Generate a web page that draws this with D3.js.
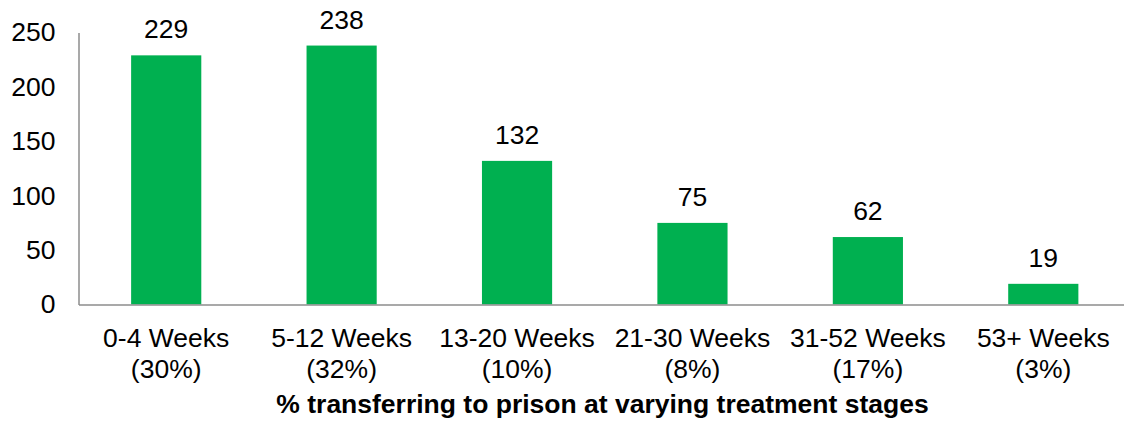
<!DOCTYPE html>
<html>
<head>
<meta charset="utf-8">
<script src="https://cdn.jsdelivr.net/npm/d3@7"></script>
<style>
  html, body { margin: 0; padding: 0; background: #fff; }
  svg { display: block; font-family: "Liberation Sans", Arial, sans-serif; }
</style>
</head>
<body>
<svg id="chart" width="1124" height="426"></svg>
<script>
// Treatment stage categories (two-line labels) and counts
const stages = ["0-4 Weeks", "5-12 Weeks", "13-20 Weeks", "21-30 Weeks", "31-52 Weeks", "53+ Weeks"];
const shares = ["(30%)", "(32%)", "(10%)", "(8%)", "(17%)", "(3%)"];
const counts = [229, 238, 132, 75, 62, 19];
const yTicks = [0, 50, 100, 150, 200, 250];
const axisTitle = "% transferring to prison at varying treatment stages";

const svg = d3.select("#chart");
const plotLeft = 78.5, plotRight = 1131, plotTop = 32.5, plotBottom = 304.5;
const fontSize = 26.5;

const x = d3.scaleBand()
  .domain(stages)
  .range([plotLeft, plotRight])
  .paddingInner(0.6)
  .paddingOuter(0.3);

const y = d3.scaleLinear().domain([0, 250]).range([plotBottom, plotTop]);

// Bars
svg.append("g").selectAll("rect")
  .data(counts)
  .join("rect")
  .attr("x", (d, i) => x(stages[i]))
  .attr("y", d => y(d))
  .attr("width", x.bandwidth())
  .attr("height", d => y(0) - y(d))
  .attr("fill", "#00b050");

// Value labels
svg.append("g").selectAll("text")
  .data(counts)
  .join("text")
  .attr("x", (d, i) => x(stages[i]) + x.bandwidth() / 2)
  .attr("y", d => y(d) - 17)
  .attr("text-anchor", "middle")
  .attr("font-size", fontSize)
  .attr("fill", "#000")
  .text(d => d);

// Y axis
const yAxis = d3.axisLeft(y).tickValues(yTicks).tickSize(0).tickPadding(23);
const gy = svg.append("g").attr("transform", `translate(${plotLeft},0)`).call(yAxis);
gy.select(".domain").attr("stroke", "#8c8c8c").attr("stroke-width", 1.5);
gy.selectAll(".tick text")
  .attr("font-size", fontSize)
  .attr("font-family", "Liberation Sans, Arial, sans-serif")
  .attr("fill", "#000");

// X axis baseline
const xAxis = d3.axisBottom(x).tickSize(0).tickFormat("");
const gx = svg.append("g").attr("transform", `translate(0,${plotBottom})`).call(xAxis);
gx.select(".domain").attr("stroke", "#8c8c8c").attr("stroke-width", 1.5);

// Two-line category labels
const lbl = svg.append("g").selectAll("text")
  .data(stages)
  .join("text")
  .attr("text-anchor", "middle")
  .attr("font-size", fontSize)
  .attr("fill", "#000");
lbl.append("tspan")
  .attr("x", d => x(d) + x.bandwidth() / 2)
  .attr("y", 347)
  .text(d => d);
lbl.append("tspan")
  .attr("x", d => x(d) + x.bandwidth() / 2)
  .attr("y", 378)
  .text((d, i) => shares[i]);

// Axis title
svg.append("text")
  .attr("x", 602.5)
  .attr("y", 413)
  .attr("text-anchor", "middle")
  .attr("font-size", fontSize)
  .attr("font-weight", "bold")
  .attr("fill", "#000")
  .text(axisTitle);
</script>
</body>
</html>
